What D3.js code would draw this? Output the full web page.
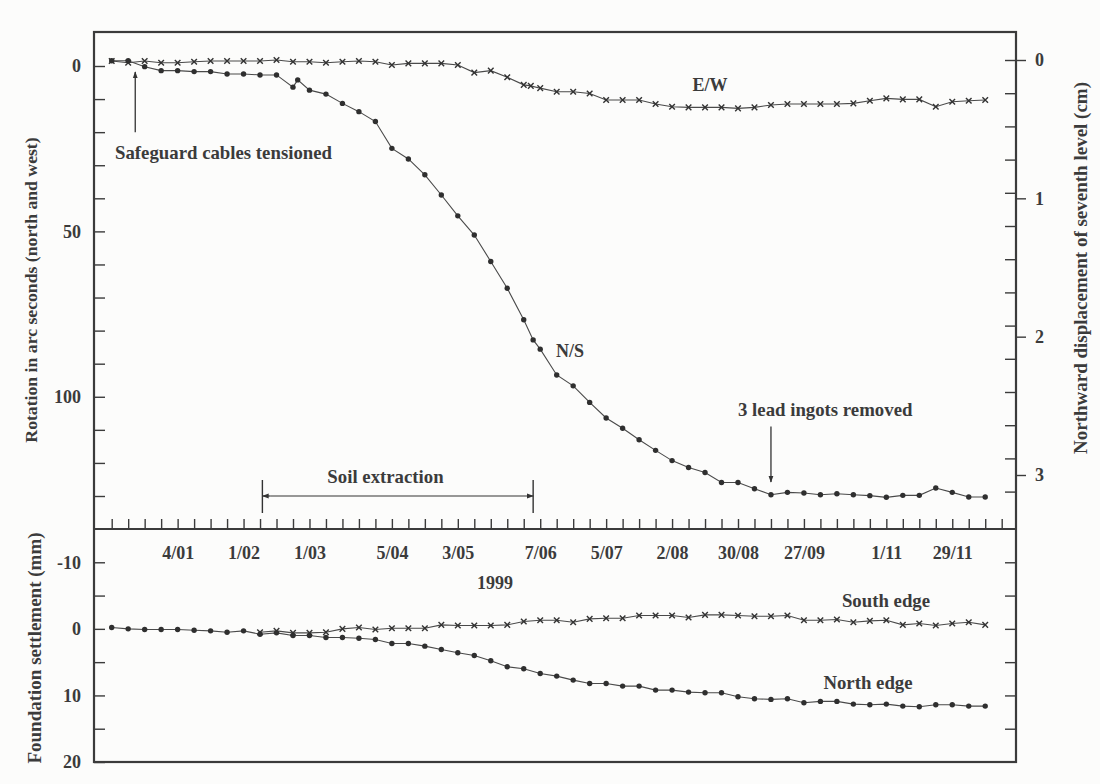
<!DOCTYPE html>
<html>
<head>
<meta charset="utf-8">
<script src="https://cdn.jsdelivr.net/npm/d3@7"></script>
<style>
  body { margin: 0; background: #fcfcfb; }
  text { font-family: "Liberation Serif", "Times New Roman", serif; font-weight: bold; fill: #3b3b3b; }
  .tick line { stroke: #3b3b3b; stroke-width: 1.4; }
  .series { fill: none; stroke: #4a4a4a; stroke-width: 1.1; }
</style>
</head>
<body>
<script>
// weekly readings, Mondays from 7 Dec 1998
var firstWeek = new Date(1998, 11, 7);
var lastWeek = new Date(1999, 11, 13);

// rotation in arc seconds, top panel
var nsValues = [-1.6, -1.6, 0.2, 1.4, 1.4, 1.7, 1.7, 2.4, 2.4, 2.7, 2.7, 6.4, 7.3, 8.5,
    11.3, 13.8, 16.8, 24.9, 28.1, 32.9, 39.0, 45.3, 51.1, 59.1, 67.2, 76.7, 85.6, 93.4,
    96.7, 101.7, 106.4, 109.5, 113.0, 116.2, 119.3, 121.4, 122.9, 125.9, 125.9, 127.8,
    129.6, 128.9, 129.1, 129.6, 129.3, 129.6, 129.9, 130.4, 129.8, 129.8, 127.6, 128.9,
    130.3, 130.3];
var nsExtra = [["1999-02-24", 4.2], ["1999-06-04", 82.8]];

var ewValues = [-1.5, -1.0, -1.5, -1.0, -1.0, -1.3, -1.5, -1.5, -1.5, -1.5, -1.8, -1.3, -1.3,
    -1.0, -1.3, -1.5, -1.3, -0.3, -0.8, -0.8, -0.8, -0.3, 2.0, 1.4, 3.4, 5.7, 6.7, 7.8, 7.8,
    8.3, 10.3, 10.3, 10.3, 11.5, 12.3, 12.5, 12.5, 12.5, 12.8, 12.5, 11.8, 11.5, 11.5, 11.5,
    11.5, 11.3, 10.5, 9.8, 10.1, 10.1, 12.3, 10.8, 10.5, 10.3];
var ewExtra = [["1999-06-03", 6.0]];

// foundation settlement in mm, bottom panel
var northValues = [-0.2, 0, 0.1, 0.1, 0.1, 0.2, 0.3, 0.5, 0.3, 0.8, 0.6, 1.0, 1.0, 1.3, 1.3,
    1.4, 1.6, 2.2, 2.2, 2.6, 3.1, 3.6, 4.0, 4.8, 5.7, 6.0, 6.7, 7.1, 7.7, 8.2, 8.2, 8.6, 8.6,
    9.2, 9.2, 9.5, 9.6, 9.6, 10.2, 10.5, 10.6, 10.5, 11.1, 10.9, 10.9, 11.3, 11.4, 11.3, 11.6,
    11.7, 11.4, 11.4, 11.6, 11.6];
var southStart = "1999-02-08";
var southValues = [0.5, 0.3, 0.6, 0.6, 0.5, 0.0, -0.2, 0.1, -0.1, -0.1, -0.1, -0.6, -0.5, -0.5,
    -0.5, -0.6, -1.1, -1.3, -1.3, -1.0, -1.5, -1.6, -1.6, -2.0, -2.0, -2.0, -1.7, -2.1, -2.1,
    -2.0, -1.9, -1.9, -2.0, -1.3, -1.3, -1.4, -1.0, -1.2, -1.3, -0.6, -0.8, -0.5, -0.8, -1.0,
    -0.6];

// date labels on the time axis
var labelDates = ["1999-01-04", "1999-02-01", "1999-03-01", "1999-04-05", "1999-05-03",
    "1999-06-07", "1999-07-05", "1999-08-02", "1999-08-30", "1999-09-27", "1999-11-01",
    "1999-11-29"];
var rotationTicks = [0, 50, 100];
var cmTicks = [0, 1, 2, 3];
var settlementTicks = [-10, 0, 10, 20];

var parse = d3.timeParse("%Y-%m-%d");
var weeks = d3.timeMonday.range(firstWeek, d3.timeDay.offset(lastWeek, 1));

function build(values, dates, extra) {
    var pts = values.map(function(v, i) { return {date: dates[i], value: v}; });
    (extra || []).forEach(function(e) { pts.push({date: parse(e[0]), value: e[1]}); });
    pts.sort(function(a, b) { return a.date - b.date; });
    return pts;
}

var ns = build(nsValues, weeks, nsExtra);
var ew = build(ewValues, weeks, ewExtra);
var north = build(northValues, weeks);
var southWeeks = d3.timeMonday.range(parse(southStart), d3.timeDay.offset(lastWeek, 1));
var south = build(southValues, southWeeks);

var margin = {top: 32, right: 84, bottom: 22, left: 94},
    width = 922,
    hTop = 497,
    hBot = 233;

var x = d3.scaleTime()
    .domain([firstWeek, d3.timeWeek.offset(lastWeek, 1)])
    .range([17.7, 907.7]);
var yTop = d3.scaleLinear().domain([0, 130]).range([34, 464]);
var yCm = d3.scaleLinear().domain([0, 3]).range([28, 443]);
var yBot = d3.scaleLinear().domain([-15, 20]).range([0, hBot]);

var svg = d3.select("body").append("svg")
    .attr("width", 1100)
    .attr("height", 784)
    .append("g")
    .attr("transform", "translate(" + margin.left + "," + margin.top + ")");

var gTop = svg.append("g");
var gBot = svg.append("g").attr("transform", "translate(0," + hTop + ")");

// left axis, top panel
gTop.append("g")
    .call(d3.axisLeft(yTop).tickValues(d3.range(0, 131, 10)).tickSize(-11).tickPadding(13)
        .tickFormat(function(d) { return rotationTicks.indexOf(d) >= 0 ? d : ""; }))
    .call(function(g) { g.select(".domain").remove(); })
    .selectAll("text").style("font-size", "18px");

// right axis, top panel: minor ticks inward, labelled ticks outward
gTop.append("g")
    .attr("transform", "translate(" + width + ",0)")
    .call(d3.axisRight(yCm).tickValues(d3.range(0, 3.2, 0.24)).tickSize(-11).tickFormat(""))
    .call(function(g) { g.select(".domain").remove(); });
gTop.append("g")
    .attr("transform", "translate(" + width + ",0)")
    .call(d3.axisRight(yCm).tickValues(cmTicks).tickSize(10).tickPadding(9).tickFormat(d3.format("d")))
    .call(function(g) { g.select(".domain").remove(); })
    .selectAll("text").style("font-size", "18px");

// weekly ticks on the panel divider
gTop.append("g")
    .attr("transform", "translate(0," + hTop + ")")
    .call(d3.axisBottom(x).ticks(d3.timeMonday.every(1)).tickSize(-10).tickFormat(""))
    .call(function(g) { g.select(".domain").remove(); });

// date labels
gBot.append("g")
    .call(d3.axisBottom(x).tickValues(labelDates.map(parse)).tickSize(0).tickPadding(17)
        .tickFormat(d3.timeFormat("%-d/%m")))
    .call(function(g) { g.select(".domain").remove(); })
    .selectAll("text").style("font-size", "18px");

gBot.append("text")
    .attr("x", 401)
    .attr("y", 60)
    .attr("text-anchor", "middle")
    .style("font-size", "18px")
    .text("1999");

// bottom panel axes
gBot.append("g")
    .call(d3.axisLeft(yBot).tickValues(d3.range(-10, 21, 5)).tickSize(-11).tickPadding(13)
        .tickFormat(function(d) { return settlementTicks.indexOf(d) >= 0 ? String(d) : ""; }))
    .call(function(g) { g.select(".domain").remove(); })
    .selectAll("text").style("font-size", "18px");
gBot.append("g")
    .attr("transform", "translate(" + width + ",0)")
    .call(d3.axisRight(yBot).tickValues(d3.range(-10, 16, 5)).tickSize(-11).tickFormat(""))
    .call(function(g) { g.select(".domain").remove(); });

// frame
svg.append("rect")
    .attr("width", width)
    .attr("height", hTop + hBot)
    .attr("fill", "none")
    .attr("stroke", "#3b3b3b")
    .attr("stroke-width", 2.2);
svg.append("line")
    .attr("x1", 0).attr("x2", width)
    .attr("y1", hTop).attr("y2", hTop)
    .attr("stroke", "#3b3b3b")
    .attr("stroke-width", 2.2);

function drawSeries(g, data, y, marker) {
    var line = d3.line()
        .x(function(d) { return x(d.date); })
        .y(function(d) { return y(d.value); });
    g.append("path").attr("class", "series").attr("d", line(data));
    if (marker === "dot") {
        g.selectAll(null)
            .data(data)
            .enter().append("circle")
            .attr("r", 2.7)
            .attr("fill", "#2f2f2f")
            .attr("cx", function(d) { return x(d.date); })
            .attr("cy", function(d) { return y(d.value); });
    } else {
        g.selectAll(null)
            .data(data)
            .enter().append("path")
            .attr("d", "M-2.8,-2.8L2.8,2.8M-2.8,2.8L2.8,-2.8")
            .attr("stroke", "#333")
            .attr("stroke-width", 1.4)
            .attr("transform", function(d) { return "translate(" + x(d.date) + "," + y(d.value) + ")"; });
    }
}

drawSeries(gTop, ew, yTop, "x");
drawSeries(gTop, ns, yTop, "dot");
drawSeries(gBot, south, yBot, "x");
drawSeries(gBot, north, yBot, "dot");

// arrow heads
var defs = svg.append("defs");
defs.append("marker")
    .attr("id", "head")
    .attr("viewBox", "0 0 10 10")
    .attr("refX", 9).attr("refY", 5)
    .attr("markerWidth", 7).attr("markerHeight", 7)
    .attr("markerUnits", "userSpaceOnUse")
    .attr("orient", "auto")
    .append("path")
    .attr("d", "M0,1.5L10,5L0,8.5Z")
    .attr("fill", "#333");

// annotations
var cable = parse("1998-12-17");
gTop.append("line")
    .attr("x1", x(cable)).attr("x2", x(cable))
    .attr("y1", yTop(20)).attr("y2", yTop(1.8))
    .attr("stroke", "#333").attr("stroke-width", 1.3)
    .attr("marker-end", "url(#head)");
gTop.append("text")
    .attr("x", 21).attr("y", 127)
    .style("font-size", "18.8px")
    .text("Safeguard cables tensioned");

var ingots = parse("1999-09-13");
gTop.append("line")
    .attr("x1", x(ingots)).attr("x2", x(ingots))
    .attr("y1", yTop(109)).attr("y2", yTop(125.8))
    .attr("stroke", "#333").attr("stroke-width", 1.3)
    .attr("marker-end", "url(#head)");
gTop.append("text")
    .attr("x", 644).attr("y", 384)
    .style("font-size", "18.8px")
    .text("3 lead ingots removed");

var soilFrom = parse("1999-02-09"), soilTo = parse("1999-06-04");
var soilY = yTop(130);
gTop.append("line")
    .attr("x1", x(soilFrom) + 8).attr("x2", x(soilFrom))
    .attr("y1", soilY).attr("y2", soilY)
    .attr("stroke", "#333").attr("stroke-width", 1.2)
    .attr("marker-end", "url(#head)");
gTop.append("line")
    .attr("x1", x(soilFrom) + 8).attr("x2", x(soilTo))
    .attr("y1", soilY).attr("y2", soilY)
    .attr("stroke", "#333").attr("stroke-width", 1.2)
    .attr("marker-end", "url(#head)");
[soilFrom, soilTo].forEach(function(d) {
    gTop.append("line")
        .attr("x1", x(d)).attr("x2", x(d))
        .attr("y1", soilY - 16).attr("y2", soilY + 17)
        .attr("stroke", "#333").attr("stroke-width", 1.4);
});
gTop.append("text")
    .attr("x", 291.5).attr("y", 451)
    .attr("text-anchor", "middle")
    .style("font-size", "18.8px")
    .text("Soil extraction");

gTop.append("text").attr("x", 616).attr("y", 59).attr("text-anchor", "middle")
    .style("font-size", "18px").text("E/W");
gTop.append("text").attr("x", 476).attr("y", 325).attr("text-anchor", "middle")
    .style("font-size", "18px").text("N/S");
gBot.append("text").attr("x", 792).attr("y", 78).attr("text-anchor", "middle")
    .style("font-size", "18.8px").text("South edge");
gBot.append("text").attr("x", 774).attr("y", 160).attr("text-anchor", "middle")
    .style("font-size", "18.8px").text("North edge");

// axis titles
d3.select("svg").append("text")
    .attr("transform", "translate(37,290) rotate(-90)")
    .attr("text-anchor", "middle")
    .style("font-size", "17.7px")
    .text("Rotation in arc seconds  (north and west)");
d3.select("svg").append("text")
    .attr("transform", "translate(1087,268) rotate(-90)")
    .attr("text-anchor", "middle")
    .style("font-size", "19px")
    .text("Northward displacement of seventh level (cm)");
d3.select("svg").append("text")
    .attr("transform", "translate(41,648) rotate(-90)")
    .attr("text-anchor", "middle")
    .style("font-size", "19px")
    .text("Foundation settlement  (mm)");
</script>
</body>
</html>
